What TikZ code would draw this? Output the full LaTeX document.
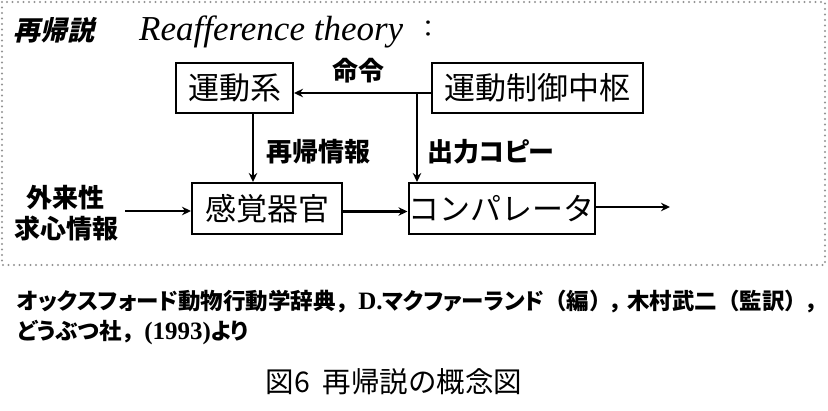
\documentclass[tikz,border=0pt]{standalone}
\usepackage{fontspec}
\usetikzlibrary{arrows.meta}
\newfontfamily\cjk{Noto Sans CJK JP}
\newfontfamily\cjkp[CharacterWidth=AlternateProportional]{Noto Sans CJK JP}
\newfontfamily\cjkslant[FakeSlant=0.22]{Noto Sans CJK JP}
\newfontfamily\tms{Liberation Serif}
\newcommand\fwc{{\cjk ，}}
\newcommand\fwl{{\cjk （}}
\newcommand\fwr{{\cjk ）}}
\newcommand\ser[1]{{\tms\bfseries\fontsize{25}{26}\selectfont #1}}
\begin{document}
\begin{tikzpicture}[x=1pt,y=-1pt,
  box/.style={draw,line width=2pt,inner sep=0pt,font=\cjk\fontsize{31}{34}\selectfont},
  arr/.style={line width=2.8pt,-{Stealth[length=9pt,width=8.5pt]}},
  lab/.style={inner sep=0pt,font=\cjkp\bfseries\fontsize{26}{28}\selectfont},
  cite/.style={inner sep=0pt,anchor=west,font=\cjkp\bfseries\fontsize{22.5}{24}\selectfont},
  frame/.style={draw=gray!85,line width=2.2pt,line cap=round,dash pattern=on 0pt off 5.5pt}]
\useasboundingbox (0,0) rectangle (828,410);
\draw[frame] (2,2) rectangle (825,265);
% title
\node[inner sep=0pt,anchor=west,font=\cjkslant\bfseries\fontsize{27}{29}\selectfont] (t1) at (13,30) {再帰説};
\node[inner sep=0pt,anchor=west,font=\tms\itshape\fontsize{35}{38}\selectfont] (t2) at (139,32) {Reafference theory};
\node[inner sep=0pt,font=\cjk\fontsize{24}{26}\selectfont] (t3) at (428,29) {：};
% boxes
\node[box,minimum width=117pt,minimum height=50pt] (mot) at (234.5,88) {運動系};
\node[box,minimum width=211pt,minimum height=50pt] (ctr) at (537.5,88) {運動制御中枢};
\node[box,minimum width=150pt,minimum height=51pt] (sens) at (267,208.5) {感覚器官};
\node[box,minimum width=185pt,minimum height=51pt] (cmp) at (501.5,208.5) {コンパレータ};
% connectors
\coordinate (j) at (417,93);
\coordinate (v) at (253,150);
\coordinate (in) at (125,211);
\coordinate (out) at (670,207);
\draw[arr] (ctr.west |- j) -- (mot.east |- j);
\draw[arr] (j) -- (j |- cmp.north);
\draw[arr] (mot.south -| v) -- (sens.north -| v);
\draw[arr] ([yshift=-3pt]sens.east) -- ([yshift=-3pt]cmp.west);
\draw[arr] (in) -- (sens.west |- in);
\draw[arr] (cmp.east |- out) -- (out);
% labels
\node[lab] (l1) at (358,71) {命令};
\node[lab] (l2) at (318,152) {再帰情報};
\node[lab,anchor=west] (l3) at (427,152) {出力コピー};
\node[lab] (l4) at (66,198) {外来性};
\node[lab] (l5) at (67,229) {求心情報};
% citation
\node[cite] (c1) at (17,302) {オックスフォード動物行動学辞典\fwc\ser{D.}マクファーランド\fwl 編\fwr，\hspace{4pt}木村武二\fwl 監訳\fwr，};
\node[cite] (c2) at (17,333) {どうぶつ社\fwc\ser{(1993)}より};
\node[inner sep=0pt,font=\cjk\fontsize{28.5}{31}\selectfont] (cap) at (394,382) {図6\ \ 再帰説の概念図};
\end{tikzpicture}
\end{document}
